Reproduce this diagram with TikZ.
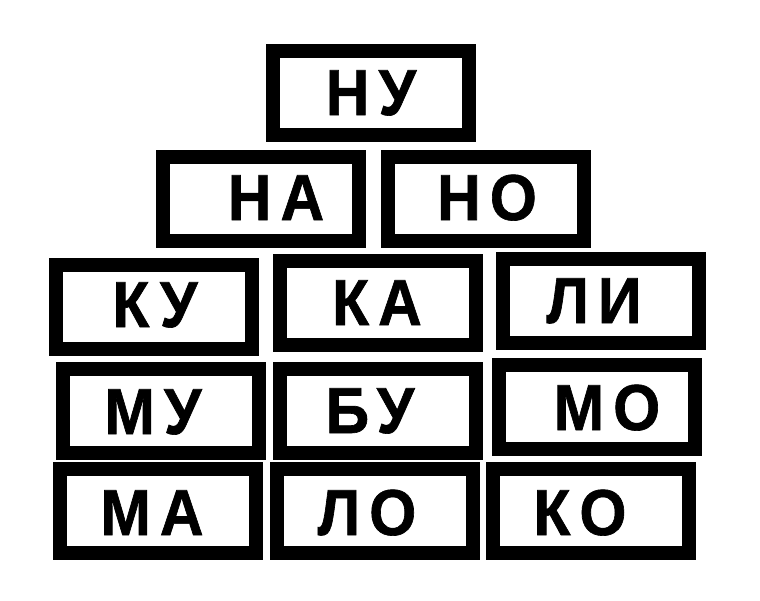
\documentclass[tikz,border=0pt]{standalone}
\usepackage{fontspec}
\newfontfamily\syllfamily{Liberation Sans}[LetterSpace=14, FakeStretch=0.93, FakeBold=1]

\begin{document}
\begin{tikzpicture}[x=0.5pt, y=-0.5pt,
	brick/.style={draw, line width=7pt, minimum width=98pt, minimum height=42pt, inner sep=0pt},
	syll/.style={anchor=base, inner sep=0pt, font=\syllfamily\bfseries\fontsize{32.5}{32.5}\selectfont}]
	\useasboundingbox[fill=white] (0,0) rectangle (760,600);
	\node[brick] (nu) at (371,93) {};
	\node[brick] (na) at (260.5,199) {};
	\node[brick] (no) at (486,199) {};
	\node[brick] (ku) at (154,306.5) {};
	\node[brick] (ka) at (377.5,303) {};
	\node[brick] (li) at (600.5,301) {};
	\node[brick] (mu) at (160.5,411) {};
	\node[brick] (bu) at (377.5,411) {};
	\node[brick] (mo) at (597,407) {};
	\node[brick] (ma) at (157.5,511) {};
	\node[brick] (lo) at (375,511) {};
	\node[brick] (ko) at (591,511) {};
	\node[syll] (nu-t) at (371,115) {НУ};
	\node[syll] (na-t) at (276,220) {НА};
	\node[syll] (no-t) at (487,220) {НО};
	\node[syll] (ku-t) at (155,327) {КУ};
	\node[syll] (ka-t) at (377,325) {КА};
	\node[syll] (li-t) at (594,323) {ЛИ};
	\node[syll] (mu-t) at (153,434) {МУ};
	\node[syll] (bu-t) at (370,433) {БУ};
	\node[syll] (mo-t) at (607,430) {МО};
	\node[syll] (ma-t) at (152,535) {МА};
	\node[syll] (lo-t) at (367,535) {ЛО};
	\node[syll] (ko-t) at (580,535) {КО};
\end{tikzpicture}
\end{document}
